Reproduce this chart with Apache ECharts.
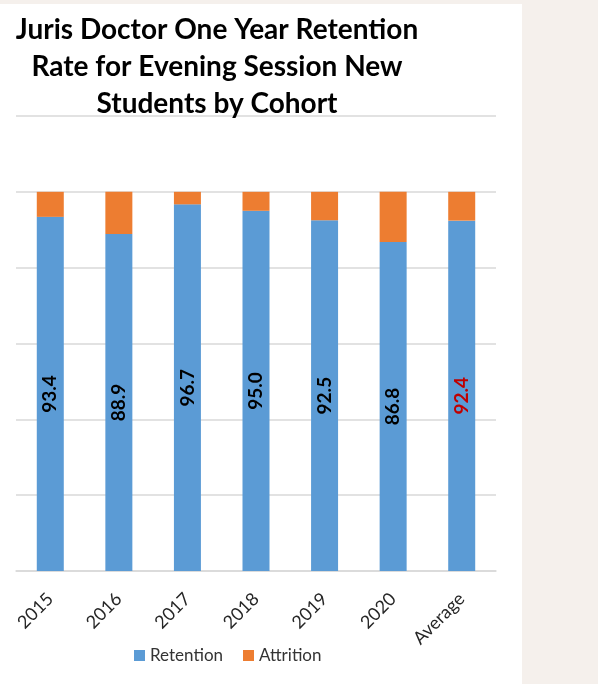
<!DOCTYPE html>
<html>
<head>
<meta charset="utf-8">
<script src="https://cdn.jsdelivr.net/npm/echarts@6/dist/echarts.min.js"></script>
<style>
  html, body { margin: 0; padding: 0; background: #f5f0ec; }
  #chart { position: absolute; left: 0; top: 4px; width: 522px; height: 680px; background: #ffffff; }
</style>
</head>
<body>
<div id="chart"></div>
<script>
// cohort data
const categories = ['2015', '2016', '2017', '2018', '2019', '2020', 'Average'];
const retention = [93.4, 88.9, 96.7, 95.0, 92.5, 86.8, 92.4];
const attrition = [6.6, 11.1, 3.3, 5.0, 7.5, 13.2, 7.6];
const yTicks = [0, 20, 40, 60, 80, 100, 120];

const chart = echarts.init(document.getElementById('chart'));

const retentionData = retention.map(function (v, i) {
  const item = { value: v };
  if (categories[i] === 'Average') item.label = { color: '#c00000' };
  return item;
});

chart.setOption({
  animation: false,
  textStyle: { fontFamily: 'Lato' },
  title: {
    text: 'Juris Doctor One Year Retention\nRate for Evening Session New\nStudents by Cohort',
    left: 212,
    top: 2,
    textAlign: 'center',
    textStyle: {
      fontFamily: 'Lato',
      fontSize: 28,
      fontWeight: 'bold',
      color: '#000000',
      lineHeight: 37
    }
  },
  legend: {
    data: ['Retention', 'Attrition'],
    left: 129,
    top: 638,
    itemWidth: 11,
    itemHeight: 11,
    itemGap: 20,
    icon: 'rect',
    textStyle: { fontFamily: 'Lato', fontSize: 17, color: '#333333' }
  },
  grid: { left: 16, right: 26, top: 112, bottom: 113 },
  xAxis: {
    type: 'category',
    data: categories,
    axisTick: { show: false },
    axisLine: { lineStyle: { color: '#d9d9d9', width: 1.5 } },
    axisLabel: {
      rotate: 45,
      margin: 25,
      fontFamily: 'Lato',
      fontSize: 18,
      color: '#262626',
      interval: 0
    }
  },
  yAxis: {
    type: 'value',
    min: yTicks[0],
    max: yTicks[yTicks.length - 1],
    interval: 20,
    axisLabel: { show: false },
    axisLine: { show: false },
    axisTick: { show: false },
    splitLine: { lineStyle: { color: '#d9d9d9', width: 1.5 } }
  },
  series: [
    {
      name: 'Retention',
      type: 'bar',
      stack: 'total',
      barWidth: 27,
      data: retentionData,
      itemStyle: { color: '#5b9bd5' },
      label: {
        show: true,
        position: 'inside',
        rotate: 90,
        fontFamily: 'Lato',
        fontSize: 19,
        fontWeight: 'bold',
        color: '#000000',
        formatter: function (p) { return p.value.toFixed(1); }
      }
    },
    {
      name: 'Attrition',
      type: 'bar',
      stack: 'total',
      barWidth: 27,
      data: attrition,
      itemStyle: { color: '#ed7d31' }
    }
  ]
});
</script>
</body>
</html>
